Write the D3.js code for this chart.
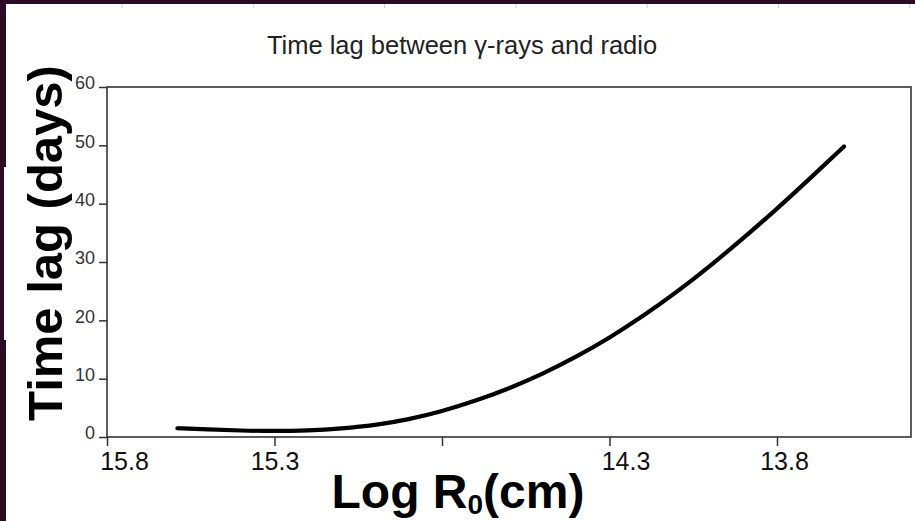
<!DOCTYPE html>
<html>
<head>
<meta charset="utf-8">
<script src="https://cdn.jsdelivr.net/npm/d3@7/dist/d3.min.js"></script>
<style>
html,body{margin:0;padding:0;background:#fff;}
svg{display:block;}
</style>
</head>
<body>
<svg id="chart" width="915" height="521"></svg>
<script>
// ---- data ----
const logR = [15.59, 15.5, 15.4, 15.3, 15.2, 15.1, 15.0, 14.9, 14.8, 14.7, 14.6, 14.5, 14.4, 14.3, 14.2, 14.1, 14.0, 13.9, 13.8, 13.7, 13.6];
const timeLag = [1.5, 1.3, 1.1, 1.0, 1.1, 1.45, 2.0, 3.0, 4.4, 6.2, 8.3, 10.8, 13.7, 17.0, 20.7, 24.8, 29.3, 34.1, 39.1, 44.4, 49.8];
const xTicks = [15.8, 15.3, 14.8, 14.3, 13.8];
const xTickLabels = ["15.8", "15.3", "", "14.3", "13.8"];
const yTicks = [0, 10, 20, 30, 40, 50, 60];
const title = "Time lag between γ-rays and radio";
const yTitle = "Time lag (days)";

const W = 915, H = 521;
const svg = d3.select("#chart");
const margin = {left: 107, right: 4, top: 87, bottom: 84};

// background frame (screenshot border)
const purple = "#2f0a24";
svg.append("rect").attr("x", 0).attr("y", 0).attr("width", W).attr("height", 4).attr("fill", purple);
svg.append("rect").attr("x", 0).attr("y", 0).attr("width", 6).attr("height", H).attr("fill", purple);
svg.append("rect").attr("x", 4).attr("y", 167).attr("width", 2).attr("height", 173).attr("fill", "#fff");
// faint top ticks
svg.append("g").selectAll("line").data(d3.range(7)).join("line")
  .attr("x1", d => 122 + d * 131.3).attr("x2", d => 122 + d * 131.3)
  .attr("y1", 4).attr("y2", 8).attr("stroke", "#ccc").attr("stroke-width", 1);

const x = d3.scaleLinear().domain([15.8, 13.4]).range([margin.left, W - margin.right]);
const y = d3.scaleLinear().domain([0, 60]).range([H - margin.bottom, margin.top]);

// frame
svg.append("rect")
  .attr("x", x.range()[0]).attr("y", y.range()[1])
  .attr("width", x.range()[1] - x.range()[0]).attr("height", y.range()[0] - y.range()[1])
  .attr("fill", "none").attr("stroke", "#333").attr("stroke-width", 1.6);

// y axis
const yAxis = svg.append("g").attr("transform", `translate(${margin.left},0)`)
  .call(d3.axisLeft(y).tickValues(yTicks).tickSize(8).tickPadding(4));
yAxis.select(".domain").remove();
yAxis.selectAll("line").attr("stroke", "#333").attr("stroke-width", 1.5);
yAxis.selectAll("text").attr("font-family", "Liberation Sans, Arial, sans-serif")
  .attr("font-size", 18).attr("fill", "#333").attr("dy", "0.1em");

// x axis
const xAxis = svg.append("g").attr("transform", `translate(0,${y(0)})`)
  .call(d3.axisBottom(x).tickValues(xTicks).tickSize(9).tickFormat((d, i) => xTickLabels[i]).tickPadding(6));
xAxis.select(".domain").remove();
xAxis.selectAll("line").attr("stroke", "#333").attr("stroke-width", 1.5);
xAxis.selectAll("text").attr("font-family", "Liberation Sans, Arial, sans-serif")
  .attr("font-size", 25).attr("fill", "#111").attr("dx", (d, i) => [17, 0, 0, 16, 7][i]);

// curve
const line = d3.line().x((d, i) => x(logR[i])).y(d => y(d)).curve(d3.curveBasis);
svg.append("path").datum(timeLag).attr("d", line)
  .attr("fill", "none").attr("stroke", "#000").attr("stroke-width", 4.2).attr("stroke-linecap", "round");

// title
svg.append("text").attr("x", 462).attr("y", 54).attr("text-anchor", "middle")
  .attr("font-family", "Liberation Sans, Arial, sans-serif").attr("font-size", 25.5).attr("fill", "#222")
  .text(title);

// y title
svg.append("text").attr("transform", "translate(62,243) rotate(-90)").attr("text-anchor", "middle")
  .attr("font-family", "Liberation Sans, Arial, sans-serif").attr("font-weight", "bold")
  .attr("font-size", 49).attr("fill", "#000").text(yTitle);

// x title
const xt = svg.append("text").attr("x", 458).attr("y", 508).attr("text-anchor", "middle")
  .attr("font-family", "Liberation Sans, Arial, sans-serif").attr("font-weight", "bold")
  .attr("font-size", 48).attr("fill", "#000");
xt.append("tspan").text("Log R");
xt.append("tspan").attr("font-size", 28).attr("dy", 6).text("0");
xt.append("tspan").attr("dy", -6).text("(cm)");
</script>
</body>
</html>
